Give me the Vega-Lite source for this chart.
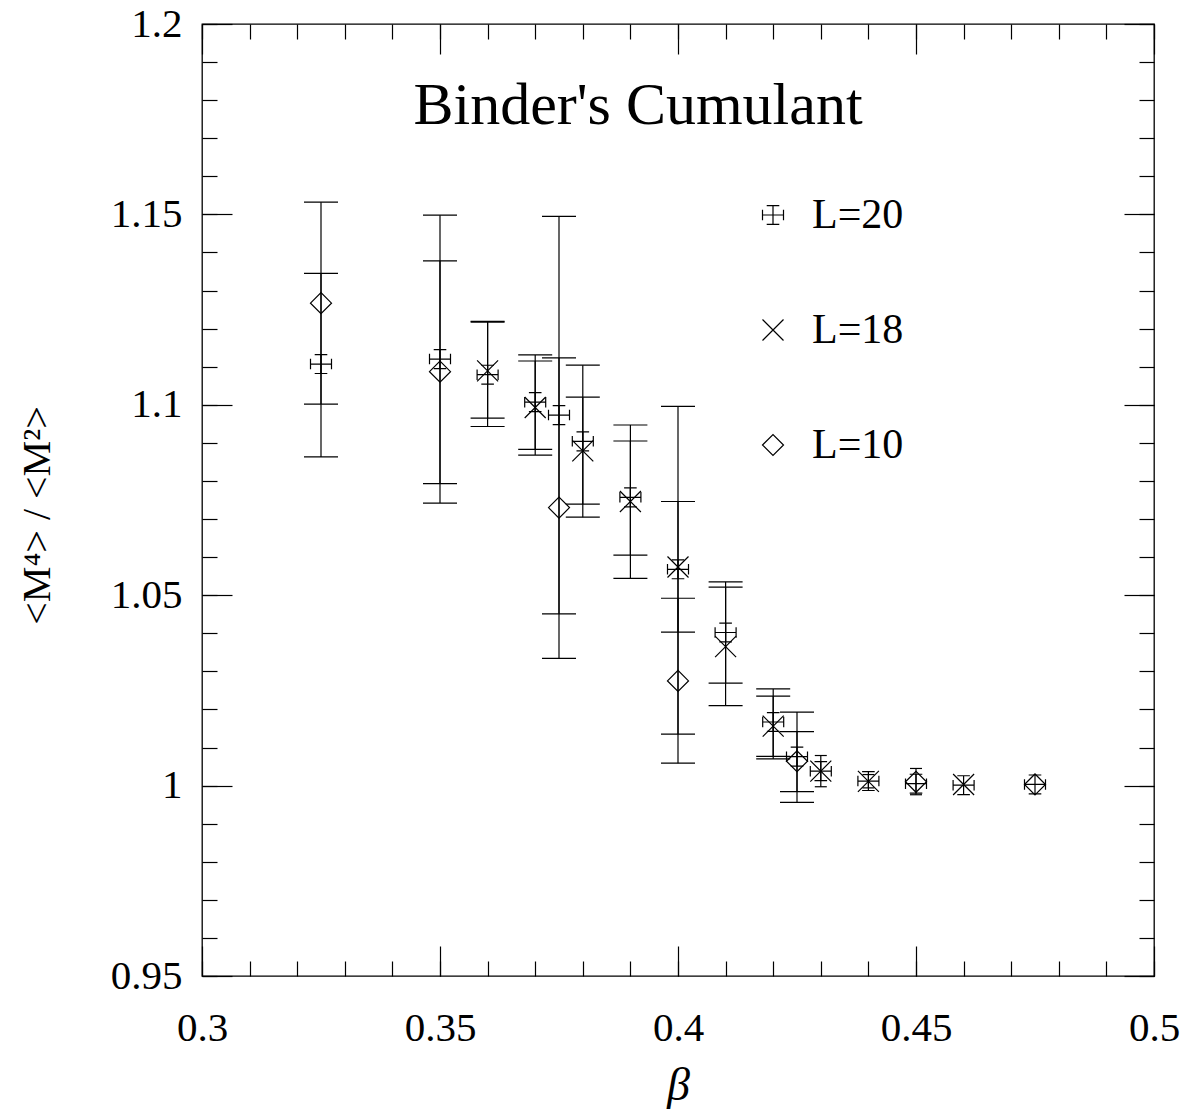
{
  "$schema": "https://vega.github.io/schema/vega-lite/v6.json",
  "width": 952,
  "height": 952,
  "autosize": {"type": "none"},
  "padding": {"left": 202, "top": 24, "right": 38, "bottom": 133},
  "background": "white",
  "title": {"text": "Binder's Cumulant", "font": "Liberation Serif", "fontSize": 60, "fontWeight": "normal", "color": "#000", "anchor": "middle", "baseline": "alphabetic", "offset": -181, "dx": -40},
  "config": {
    "view": {"stroke": "#000", "strokeWidth": 1.3},
    "axis": {"grid": false, "domain": false, "tickColor": "#000", "tickWidth": 1.2, "labelFont": "Liberation Serif", "labelFontSize": 41, "labelColor": "#000", "titleFont": "Liberation Serif", "titleColor": "#000", "titleFontWeight": "normal", "labelFlush": false, "labelOverlap": false}
  },
  "resolve": {"axis": {"x": "independent", "y": "independent"}},
  "datasets": {
    "points": [
      {"beta": 0.325, "series": "L=20", "value": 1.1107},
      {"beta": 0.325, "series": "L=10", "value": 1.1267},
      {"beta": 0.35, "series": "L=20", "value": 1.1120},
      {"beta": 0.35, "series": "L=10", "value": 1.1087},
      {"beta": 0.36, "series": "L=20", "value": 1.1079},
      {"beta": 0.36, "series": "L=18", "value": 1.1089},
      {"beta": 0.37, "series": "L=20", "value": 1.1007},
      {"beta": 0.37, "series": "L=18", "value": 1.0993},
      {"beta": 0.375, "series": "L=20", "value": 1.0973},
      {"beta": 0.375, "series": "L=10", "value": 1.0730},
      {"beta": 0.38, "series": "L=20", "value": 1.0904},
      {"beta": 0.38, "series": "L=18", "value": 1.0879},
      {"beta": 0.39, "series": "L=20", "value": 1.0757},
      {"beta": 0.39, "series": "L=18", "value": 1.0746},
      {"beta": 0.40, "series": "L=20", "value": 1.0568},
      {"beta": 0.40, "series": "L=18", "value": 1.0574},
      {"beta": 0.40, "series": "L=10", "value": 1.0275},
      {"beta": 0.41, "series": "L=20", "value": 1.0402},
      {"beta": 0.41, "series": "L=18", "value": 1.0365},
      {"beta": 0.42, "series": "L=20", "value": 1.0167},
      {"beta": 0.42, "series": "L=18", "value": 1.0156},
      {"beta": 0.425, "series": "L=20", "value": 1.0076},
      {"beta": 0.425, "series": "L=10", "value": 1.0064},
      {"beta": 0.43, "series": "L=20", "value": 1.0038},
      {"beta": 0.43, "series": "L=18", "value": 1.0038},
      {"beta": 0.44, "series": "L=20", "value": 1.0012},
      {"beta": 0.44, "series": "L=18", "value": 1.0011},
      {"beta": 0.45, "series": "L=20", "value": 1.0005},
      {"beta": 0.45, "series": "L=10", "value": 1.0010},
      {"beta": 0.46, "series": "L=20", "value": 1.0001},
      {"beta": 0.46, "series": "L=18", "value": 1.0003},
      {"beta": 0.475, "series": "L=20", "value": 1.0003},
      {"beta": 0.475, "series": "L=10", "value": 1.0003}
    ],
    "errbig": [
      {"beta": 0.325, "series": "L=10", "lo": 1.1002, "hi": 1.1532},
      {"beta": 0.325, "series": "L=20", "lo": 1.0863, "hi": 1.1345},
      {"beta": 0.35, "series": "L=20", "lo": 1.0742, "hi": 1.1498},
      {"beta": 0.35, "series": "L=10", "lo": 1.0793, "hi": 1.1378},
      {"beta": 0.36, "series": "L=18", "lo": 1.0965, "hi": 1.1217},
      {"beta": 0.36, "series": "L=20", "lo": 1.0943, "hi": 1.1219},
      {"beta": 0.37, "series": "L=18", "lo": 1.0868, "hi": 1.1115},
      {"beta": 0.37, "series": "L=20", "lo": 1.0883, "hi": 1.1131},
      {"beta": 0.375, "series": "L=20", "lo": 1.0451, "hi": 1.1495},
      {"beta": 0.375, "series": "L=10", "lo": 1.0334, "hi": 1.1123},
      {"beta": 0.38, "series": "L=20", "lo": 1.0705, "hi": 1.1104},
      {"beta": 0.38, "series": "L=18", "lo": 1.0739, "hi": 1.1020},
      {"beta": 0.39, "series": "L=18", "lo": 1.0544, "hi": 1.0947},
      {"beta": 0.39, "series": "L=20", "lo": 1.0605, "hi": 1.0905},
      {"beta": 0.40, "series": "L=20", "lo": 1.0135, "hi": 1.0996},
      {"beta": 0.40, "series": "L=18", "lo": 1.0403, "hi": 1.0746},
      {"beta": 0.40, "series": "L=10", "lo": 1.0059, "hi": 1.0492},
      {"beta": 0.41, "series": "L=20", "lo": 1.0269, "hi": 1.0535},
      {"beta": 0.41, "series": "L=18", "lo": 1.0210, "hi": 1.0521},
      {"beta": 0.42, "series": "L=20", "lo": 1.0077, "hi": 1.0254},
      {"beta": 0.42, "series": "L=18", "lo": 1.0070, "hi": 1.0235},
      {"beta": 0.425, "series": "L=20", "lo": 0.9956, "hi": 1.0193},
      {"beta": 0.425, "series": "L=10", "lo": 0.9984, "hi": 1.0142}
    ],
    "errsmall": [
      {"beta": 0.43, "series": "L=18", "lo": 0.9997, "hi": 1.0079},
      {"beta": 0.44, "series": "L=18", "lo": 0.9994, "hi": 1.0029},
      {"beta": 0.45, "series": "L=10", "lo": 0.9976, "hi": 1.0045}
    ]
  },
  "layer": [
    {
      "data": {"name": "errbig"},
      "mark": {"type": "rule", "color": "#000", "strokeWidth": 1.2},
      "encoding": {
        "x": {"field": "beta", "type": "quantitative", "scale": {"domain": [0.3, 0.5], "nice": false, "zero": false},
          "axis": {"orient": "bottom", "values": [0.3, 0.35, 0.4, 0.45, 0.5], "ticks": false, "labels": true, "format": "~g", "labelPadding": 32, "title": "β", "titleFontSize": 46, "titleFontStyle": "italic", "titleY": 109, "titleBaseline": "middle"}},
        "y": {"field": "lo", "type": "quantitative", "scale": {"domain": [0.95, 1.2], "nice": false, "zero": false},
          "axis": {"orient": "left", "values": [0.95, 1, 1.05, 1.1, 1.15, 1.2], "ticks": false, "labels": true, "format": "~g", "labelPadding": 20, "labelBaseline": "middle", "title": "<M⁴> / <M²>", "titleFontSize": 40, "titleX": -165, "titleY": 491, "titleAngle": -90, "titleBaseline": "middle"}},
        "y2": {"field": "hi"}
      }
    },
    {
      "data": {"name": "errbig"},
      "transform": [{"fold": ["lo", "hi"], "as": ["end", "val"]}],
      "mark": {"type": "point", "shape": "M-1,0L1,0", "size": 1156, "filled": false, "color": "#000", "strokeWidth": 1.2, "opacity": 1},
      "encoding": {
        "x": {"field": "beta", "type": "quantitative", "scale": {"domain": [0.3, 0.5], "nice": false, "zero": false},
          "axis": {"orient": "bottom", "values": [0.3, 0.31, 0.32, 0.33, 0.34, 0.35, 0.36, 0.37, 0.38, 0.39, 0.4, 0.41, 0.42, 0.43, 0.44, 0.45, 0.46, 0.47, 0.48, 0.49, 0.5], "labels": false, "tickSize": -15, "title": null}},
        "y": {"field": "val", "type": "quantitative", "scale": {"domain": [0.95, 1.2], "nice": false, "zero": false},
          "axis": {"orient": "left", "values": [0.95, 0.96, 0.97, 0.98, 0.99, 1, 1.01, 1.02, 1.03, 1.04, 1.05, 1.06, 1.07, 1.08, 1.09, 1.1, 1.11, 1.12, 1.13, 1.14, 1.15, 1.16, 1.17, 1.18, 1.19, 1.2], "labels": false, "tickSize": -15, "title": null}}
      }
    },
    {
      "data": {"name": "errsmall"},
      "mark": {"type": "rule", "color": "#000", "strokeWidth": 1.2},
      "encoding": {
        "x": {"field": "beta", "type": "quantitative", "scale": {"domain": [0.3, 0.5], "nice": false, "zero": false},
          "axis": {"orient": "bottom", "values": [0.3, 0.35, 0.4, 0.45, 0.5], "labels": false, "tickSize": -30, "title": null}},
        "y": {"field": "lo", "type": "quantitative", "scale": {"domain": [0.95, 1.2], "nice": false, "zero": false},
          "axis": {"orient": "left", "values": [0.95, 1, 1.05, 1.1, 1.15, 1.2], "labels": false, "tickSize": -30, "title": null}},
        "y2": {"field": "hi"}
      }
    },
    {
      "data": {"name": "errsmall"},
      "transform": [{"fold": ["lo", "hi"], "as": ["end", "val"]}],
      "mark": {"type": "point", "shape": "M-1,0L1,0", "size": 144, "filled": false, "color": "#000", "strokeWidth": 1.2, "opacity": 1},
      "encoding": {
        "x": {"field": "beta", "type": "quantitative", "scale": {"domain": [0.3, 0.5], "nice": false, "zero": false},
          "axis": {"orient": "top", "values": [0.3, 0.31, 0.32, 0.33, 0.34, 0.35, 0.36, 0.37, 0.38, 0.39, 0.4, 0.41, 0.42, 0.43, 0.44, 0.45, 0.46, 0.47, 0.48, 0.49, 0.5], "labels": false, "tickSize": -15, "title": null}},
        "y": {"field": "val", "type": "quantitative", "scale": {"domain": [0.95, 1.2], "nice": false, "zero": false},
          "axis": {"orient": "right", "values": [0.95, 0.96, 0.97, 0.98, 0.99, 1, 1.01, 1.02, 1.03, 1.04, 1.05, 1.06, 1.07, 1.08, 1.09, 1.1, 1.11, 1.12, 1.13, 1.14, 1.15, 1.16, 1.17, 1.18, 1.19, 1.2], "labels": false, "tickSize": -15, "title": null}}
      }
    },
    {
      "data": {"name": "points"},
      "mark": {"type": "point", "filled": false, "size": 441, "color": "#000", "strokeWidth": 1.2, "opacity": 1},
      "encoding": {
        "x": {"field": "beta", "type": "quantitative", "scale": {"domain": [0.3, 0.5], "nice": false, "zero": false},
          "axis": {"orient": "top", "values": [0.3, 0.35, 0.4, 0.45, 0.5], "labels": false, "tickSize": -30, "title": null}},
        "y": {"field": "value", "type": "quantitative", "scale": {"domain": [0.95, 1.2], "nice": false, "zero": false},
          "axis": {"orient": "right", "values": [0.95, 1, 1.05, 1.1, 1.15, 1.2], "labels": false, "tickSize": -30, "title": null}},
        "shape": {"field": "series", "type": "nominal",
          "scale": {"domain": ["L=20", "L=18", "L=10"], "range": ["M-1,0L1,0M-1,-0.5L-1,0.5M1,-0.5L1,0.5M0,-0.9L0,0.9M-0.6,-0.9L0.6,-0.9M-0.6,0.9L0.6,0.9", "M-1,-1L1,1M-1,1L1,-1", "diamond"]},
          "legend": {"title": null, "orient": "none", "legendX": 550, "legendY": 170, "direction": "vertical", "padding": 0, "labelFont": "Liberation Serif", "labelFontSize": 42, "labelColor": "#000", "labelOffset": 18, "labelLimit": 300, "rowPadding": 73, "symbolSize": 441, "symbolStrokeWidth": 1.2, "symbolStrokeColor": "#000", "symbolFillColor": "transparent", "symbolOpacity": 1}}
      }
    }
  ]
}
